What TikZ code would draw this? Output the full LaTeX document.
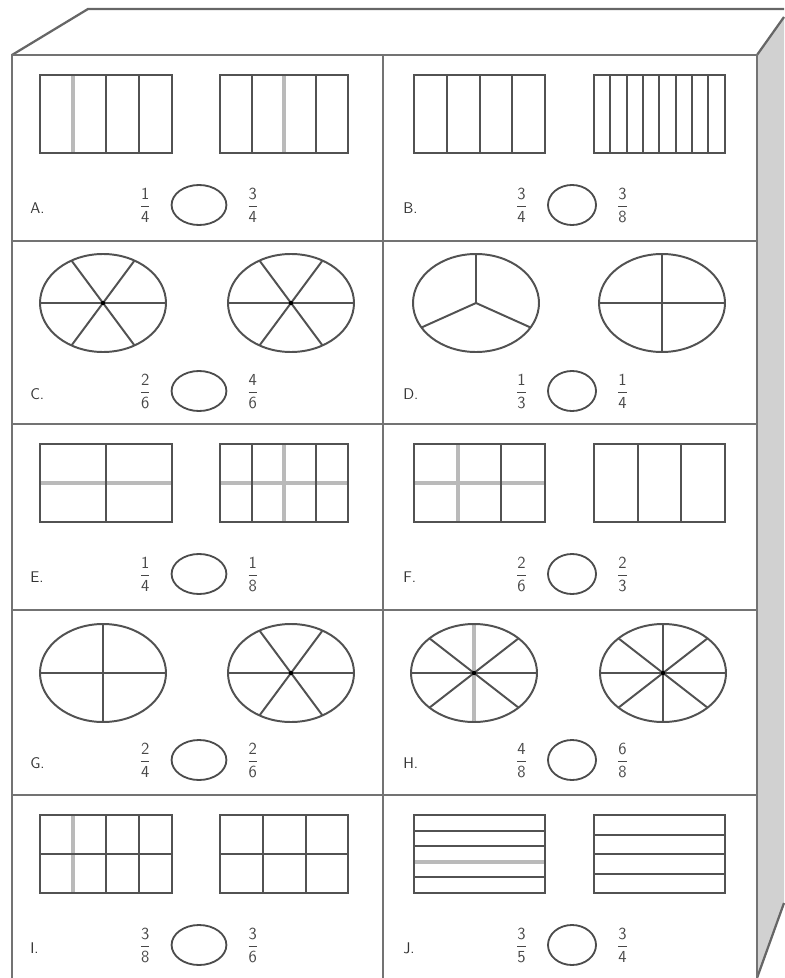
\documentclass[tikz,border=0pt]{standalone}
\usepackage{amsmath}
\usepackage{tikz}
\usetikzlibrary{positioning,shapes.geometric}
\begin{document}
\begin{tikzpicture}[
    x=0.025cm, y=-0.025cm,
    frame/.style={draw=black!55, line width=2pt},
    edge/.style={draw=black!60, line width=1.6pt},
    side/.style={fill=black!18},
    part/.style={draw=black!68, line width=1.4pt},
    faint/.style={draw=black!27, line width=2.2pt},
    hub/.style={fill=black, radius=2.2},
    ring/.style={ellipse, draw=black!70, line width=1.3pt,
                 minimum height=1cm, inner sep=0pt},
    lbl/.style={anchor=west, font=\sffamily\fontsize{11}{13}\selectfont,
                text=black!80, inner sep=0pt},
    frac/.style={font=\fontsize{11.5}{13}\selectfont, text=black!72, inner sep=1pt},
  ]
  \useasboundingbox (0,0) rectangle (784,978);

  \fill[side] (757,55) -- (784,17) -- (784,903) -- (757,978) -- cycle;
  \draw[edge] (12,55) -- (88,9) -- (784,9);
  \draw[edge] (757,55) -- (784,17);
  \draw[edge] (784,903) -- (757,978);
  \draw[frame] (12,978) -- (12,55) -- (757,55) -- (757,978);
  \foreach \y in {241,424,610,795} \draw[frame] (12,\y) -- (757,\y);
  \draw[frame] (383,55) -- (383,978);

  \foreach \lt/\cx/\cy/\na/\da/\nb/\db/\rw in {
      A/12/55/1/4/3/4/1.37, B/385/55/3/4/3/8/1.2,
      C/12/241/2/6/4/6/1.37, D/385/241/1/3/1/4/1.2,
      E/12/424/1/4/1/8/1.37, F/385/424/2/6/2/3/1.2,
      G/12/610/2/4/2/6/1.37, H/385/610/4/8/6/8/1.2,
      I/12/795/3/8/3/6/1.37, J/385/795/3/5/3/4/1.2} {
    \begin{scope}[shift={(\cx,\cy)}]
      \node[lbl] (lab\lt) at (18,153) {\lt.};
      \node[ring, minimum width=\rw cm] (o\lt) at (187,150) {};
      \node[frac, left=0.45cm of o\lt] (p\lt) {$\dfrac{\mathsf{\na}}{\mathsf{\da}}$};
      \node[frac, right=0.45cm of o\lt] (q\lt) {$\dfrac{\mathsf{\nb}}{\mathsf{\db}}$};
    \end{scope}
  }

  % A
  \begin{scope}[shift={(12,55)}]
    \draw[faint] (61,20) -- (61,98);
    \draw[part] (28,20) rectangle (160,98);
    \foreach \x in {94,127} \draw[part] (\x,20) -- +(0,78);
    \draw[faint] (272,20) -- (272,98);
    \draw[part] (208,20) rectangle (336,98);
    \foreach \x in {240,304} \draw[part] (\x,20) -- +(0,78);
  \end{scope}

  % B
  \begin{scope}[shift={(385,55)}]
    \draw[part] (29,20) rectangle (160,98);
    \foreach \x in {62,95,127} \draw[part] (\x,20) -- +(0,78);
    \draw[part] (209,20) rectangle (340,98);
    \foreach \x in {225,242,258,274,291,307,323} \draw[part] (\x,20) -- +(0,78);
  \end{scope}

  % C
  \begin{scope}[shift={(12,241)}]
    \foreach \c in {91,279} {
      \draw[part] (\c,62) ellipse [x radius=63, y radius=49];
      \foreach \a in {0,60,...,300} \draw[part] (\c,62) -- +(\a:63 and 49);
      \fill[hub] (\c,62) circle;
    }
  \end{scope}

  % D
  \begin{scope}[shift={(385,241)}]
    \draw[part] (91,62) ellipse [x radius=63, y radius=49];
    \foreach \a in {30,150,270} \draw[part] (91,62) -- +(\a:63 and 49);
    \draw[part] (277,62) ellipse [x radius=63, y radius=49];
    \foreach \a in {0,90,180,270} \draw[part] (277,62) -- +(\a:63 and 49);
  \end{scope}

  % E
  \begin{scope}[shift={(12,424)}]
    \draw[faint] (28,59) -- (160,59);
    \draw[part] (28,20) rectangle (160,98);
    \draw[part] (94,20) -- +(0,78);
    \draw[faint] (208,59) -- (336,59);
    \draw[faint] (272,20) -- (272,98);
    \draw[part] (208,20) rectangle (336,98);
    \foreach \x in {240,304} \draw[part] (\x,20) -- +(0,78);
  \end{scope}

  % F
  \begin{scope}[shift={(385,424)}]
    \draw[faint] (29,59) -- (160,59);
    \draw[faint] (73,20) -- (73,98);
    \draw[part] (29,20) rectangle (160,98);
    \draw[part] (116,20) -- +(0,78);
    \draw[part] (209,20) rectangle (340,98);
    \foreach \x in {253,296} \draw[part] (\x,20) -- +(0,78);
  \end{scope}

  % G
  \begin{scope}[shift={(12,610)}]
    \draw[part] (91,63) ellipse [x radius=63, y radius=49];
    \foreach \a in {0,90,180,270} \draw[part] (91,63) -- +(\a:63 and 49);
    \draw[part] (279,63) ellipse [x radius=63, y radius=49];
    \foreach \a in {0,60,...,300} \draw[part] (279,63) -- +(\a:63 and 49);
    \fill[hub] (279,63) circle;
  \end{scope}

  % H
  \begin{scope}[shift={(385,610)}]
    \draw[faint] (89,14) -- (89,112);
    \draw[part] (89,63) ellipse [x radius=63, y radius=49];
    \foreach \a in {0,45,135,180,225,315} \draw[part] (89,63) -- +(\a:63 and 49);
    \fill[hub] (89,63) circle;
    \draw[part] (278,63) ellipse [x radius=63, y radius=49];
    \foreach \a in {0,45,...,315} \draw[part] (278,63) -- +(\a:63 and 49);
    \fill[hub] (278,63) circle;
  \end{scope}

  % I
  \begin{scope}[shift={(12,795)}]
    \draw[faint] (61,20) -- (61,98);
    \draw[part] (28,20) rectangle (160,98);
    \draw[part] (28,59) -- (160,59);
    \foreach \x in {94,127} \draw[part] (\x,20) -- +(0,78);
    \draw[part] (208,20) rectangle (336,98);
    \draw[part] (208,59) -- (336,59);
    \foreach \x in {251,294} \draw[part] (\x,20) -- +(0,78);
  \end{scope}

  % J
  \begin{scope}[shift={(385,795)}]
    \draw[faint] (29,67) -- (160,67);
    \draw[part] (29,20) rectangle (160,98);
    \foreach \y in {36,51,82} \draw[part] (29,\y) -- +(131,0);
    \draw[part] (209,20) rectangle (340,98);
    \foreach \y in {40,59,79} \draw[part] (209,\y) -- +(131,0);
  \end{scope}
\end{tikzpicture}
\end{document}
